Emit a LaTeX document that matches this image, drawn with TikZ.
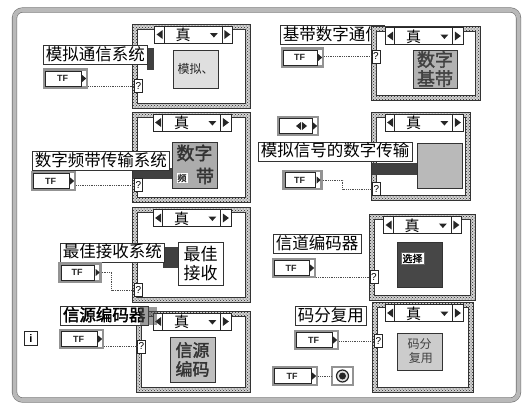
\documentclass[tikz,border=0pt]{standalone}
\usepackage{fontspec}
\newfontfamily\cjk{Noto Sans CJK SC}
\newfontfamily\cjkb[FakeBold=2]{Noto Sans CJK SC}
\newfontfamily\lsans{Liberation Sans}
\usetikzlibrary{patterns,calc}

\tikzset{
  loopframe/.style={draw=black!55, double=gray!55, double distance=4pt, line width=0.6pt, rounded corners=8pt, inner sep=0pt},
  casenode/.style={inner sep=0pt},
  lbl/.style={draw=black!80, line width=0.8pt, fill=white, inner xsep=2.5pt, inner ysep=1pt, text height=13.5pt, text depth=3.5pt, anchor=west, font=\cjk\fontsize{16.5}{17}\selectfont},
  selbox/.style={draw=black!85, line width=0.8pt, fill=white, minimum width=78pt, minimum height=17pt, inner sep=0pt},
  seltext/.style={font=\cjk\fontsize{15}{15}\selectfont, inner sep=0pt},
  inbox/.style={draw=black!80, line width=0.8pt, minimum width=45pt, minimum height=45pt, inner sep=0pt, align=center},
  tfbox/.style={draw=gray!85, line width=2.4pt, fill=white, minimum height=18pt, inner sep=0pt},
  tftext/.style={font=\lsans\bfseries\fontsize{9}{9}\selectfont, text=black!85, inner sep=0pt},
  qbox/.style={draw=black!85, line width=0.6pt, fill=white, minimum width=8pt, minimum height=13pt, inner sep=0pt, font=\lsans\fontsize{10}{10}\selectfont},
  wire/.style={densely dotted, black!70, line width=0.8pt},
  darkbar/.style={fill=black!75},
}

\newcommand\casestr[3]{%
  \node[casenode,#3] (#1) at (#2) {};
  \fill[white] (#1.north west) rectangle (#1.south east);
  \fill[gray!35, even odd rule]
    (#1.north west) rectangle (#1.south east)
    ([shift={(5,5)}]#1.north west) rectangle ([shift={(-5,-5)}]#1.south east);
  \fill[pattern=crosshatch dots, pattern color=black!85, even odd rule]
    (#1.north west) rectangle (#1.south east)
    ([shift={(5,5)}]#1.north west) rectangle ([shift={(-5,-5)}]#1.south east);
  \draw[black!80, line width=0.7pt] (#1.north west) rectangle (#1.south east);
  \draw[black!80, line width=0.7pt] ([shift={(5,5)}]#1.north west) rectangle ([shift={(-5,-5)}]#1.south east);
}

\newcommand\selector[2]{%
  \node[selbox] (#1) at (#2) {};
  \draw[black!85, line width=0.6pt] ([shift={(10,0)}]#1.north west) -- ([shift={(10,0)}]#1.south west);
  \draw[black!85, line width=0.6pt] ([shift={(-11,0)}]#1.north east) -- ([shift={(-11,0)}]#1.south east);
  \fill[black!85] ([shift={(2.5,0)}]#1.west) -- ++(6,-4.5) -- ++(0,9) -- cycle;
  \fill[black!85] ([shift={(-2.5,0)}]#1.east) -- ++(-6,-4.5) -- ++(0,9) -- cycle;
  \node[seltext] (#1t) at ([shift={(29,0.5)}]#1.west) {真};
  \fill[black!85] ([shift={(-23,-1.5)}]#1.east) -- ++(8,0) -- ++(-4,4.5) -- cycle;
}

\newcommand\tfterm[3]{%
  \node[tfbox, minimum width=#3] (#1) at (#2) {};
  \draw[black!85, line width=0.5pt] ([shift={(2.5,2.5)}]#1.north west) rectangle ([shift={(-7,-2.5)}]#1.south east);
  \node[tftext] (#1l) at ([shift={(-3,0)}]#1.center) {TF};
  \fill[black!85] ([shift={(-6,-3.5)}]#1.east) -- ++(4,3.5) -- ++(-4,3.5) -- cycle;
}

\begin{document}
\begin{tikzpicture}[x=1pt,y=-1pt]
\useasboundingbox (0,0) rectangle (529,407);
\fill[white] (0,0) rectangle (529,407);

% while loop
\node[loopframe, minimum width=504pt, minimum height=390pt] (loop) at (266.5,205) {};

% label hidden behind case 2
\node[lbl] (lab2) at (280,35) {基带数字通信};

% case structures
\casestr{c1}{191.5,66.5}{minimum width=117pt, minimum height=83pt}
\casestr{c2}{426,63.5}{minimum width=108pt, minimum height=73pt}
\casestr{c3}{191.5,157.5}{minimum width=117pt, minimum height=89pt}
\casestr{c4}{421,156.5}{minimum width=98pt, minimum height=87pt}
\casestr{c5}{191.5,255}{minimum width=117pt, minimum height=94pt}
\casestr{c6}{422.5,257.5}{minimum width=105pt, minimum height=85pt}
\casestr{c7}{193.5,352}{minimum width=113pt, minimum height=80pt}
\casestr{c8}{423,347.5}{minimum width=100pt, minimum height=89pt}

% selectors
\selector{s1}{193.5,34.5}
\selector{s2}{424,36}
\selector{s3}{192,122.5}
\selector{s4}{424,122.5}
\selector{s5}{192,218}
\selector{s6}{422.5,225}
\selector{s7}{192,321.5}
\selector{s8}{424,313}

% inner boxes
\node[inbox, minimum height=38pt, fill=gray!25, font=\cjk\fontsize{12}{12}\selectfont, text=black!85] (in1) at (195.5,69) {模拟、};
\node[inbox, minimum width=44pt, minimum height=38pt, fill=gray!60, font=\cjkb\fontsize{18}{19}\selectfont, text=black!75] (in2) at (435,69) {数字\\基带};
\node[inbox, minimum height=46pt, fill=gray!65] (in3) at (194.5,165) {};
\node[font=\cjkb\fontsize{18}{18}\selectfont, text=black!80, inner sep=0pt] (in3a) at (194.5,153) {数字};
\node[fill=white, font=\cjkb\fontsize{9}{9}\selectfont, inner sep=1pt, text=black!80] (in3b) at (182,178) {频};
\node[font=\cjkb\fontsize{18}{18}\selectfont, text=black!80, inner sep=0pt] (in3c) at (205,176) {带};
\node[inbox, fill=gray!55] (in4) at (439.5,165.5) {};
\node[inbox, minimum height=43pt, fill=white, font=\cjk\fontsize{17}{19}\selectfont] (in5) at (200.5,263.5) {最佳\\接收};
\node[inbox, fill=black!72] (in6) at (419.5,264.5) {};
\node[fill=white, draw=black!60, line width=0.4pt, inner sep=1.5pt, font=\cjkb\fontsize{10}{10}\selectfont] (in6l) at (412.5,258.5) {选择};
\node[inbox, fill=gray!50, font=\cjkb\fontsize{17}{19}\selectfont, text=black!80] (in7) at (192.5,359.5) {信源\\编码};
\node[inbox, minimum height=37pt, fill=gray!40, font=\cjk\fontsize{12}{14}\selectfont, text=black!75] (in8) at (419.5,351.5) {码分\\\ 复用};

% dark tunnels
\fill[darkbar] (147,48) rectangle (154,70);
\fill[darkbar] (133,168) rectangle (172,179);
\fill[darkbar] (372,163) rectangle (417,175);
\fill[darkbar] (163,247) rectangle (178,268);

% labels
\node[lbl] (lab1) at (43,55) {模拟通信系统};
\node[lbl] (lab3) at (32,161) {数字频带传输系统};
\node[lbl] (lab4) at (258,151.5) {模拟信号的数字传输};
\node[lbl] (lab5) at (60,252.5) {最佳接收系统};
\node[lbl] (lab6) at (273,244) {信道编码器};
\node[lbl, font=\cjkb\fontsize{16.5}{17}\selectfont] (lab7) at (60,316) {信源编码器};
\fill[black!70, opacity=0.55] (140,307) rectangle (157,325);
\node[lbl] (lab8) at (295,316) {码分复用};

% TF terminals
\tfterm{tf1}{65.5,78.5}{43pt}
\tfterm{tf2}{302.5,57.5}{41pt}
\tfterm{tf3}{53.5,181}{43pt}
\tfterm{tf4}{302.5,180}{38pt}
\tfterm{tf5}{80,272.5}{41pt}
\tfterm{tf6}{294,268}{42pt}
\tfterm{tf7}{81.5,339}{43pt}
\tfterm{tf8}{316.5,340}{43pt}
\tfterm{tfs}{295,376}{44pt}

% enum control
\node[tfbox, minimum width=40pt] (enum) at (298,126) {};
\draw[black!85, line width=0.5pt] ([shift={(2.5,2.5)}]enum.north west) rectangle ([shift={(-7,-2.5)}]enum.south east);
\fill[black!85] ([shift={(-2,0)}]enum.center) -- ++(5,-4) -- ++(0,8) -- cycle;
\fill[black!85] ([shift={(9,0)}]enum.center) -- ++(-5,-4) -- ++(0,8) -- cycle;
\fill[black!85] ([shift={(-6,-3.5)}]enum.east) -- ++(4,3.5) -- ++(-4,3.5) -- cycle;

% selector terminals
\node[qbox] (q1) at (138.5,86) {?};
\node[qbox] (q2) at (376,56.5) {?};
\node[qbox] (q3) at (138.5,185) {?};
\node[qbox] (q4) at (376.5,189) {?};
\node[qbox] (q5) at (138.5,290) {?};
\node[qbox] (q6) at (374,277) {?};
\node[qbox] (q7) at (141.5,346.5) {?};
\node[qbox] (q8) at (378.5,341) {?};

% iteration terminal
\node[draw=black!85, line width=1.2pt, fill=white, minimum width=13pt, minimum height=14pt, inner sep=0pt, font=\lsans\bfseries\fontsize{11}{11}\selectfont] (iter) at (31,338.5) {i};

% stop button
\node[draw=gray!85, line width=2pt, fill=white, minimum width=21pt, minimum height=18pt, inner sep=0pt] (stop) at (342.5,376) {};
\draw[black!85, line width=1.2pt, fill=gray!25] (stop.center) circle[radius=6pt];
\fill[black!85] (stop.center) circle[radius=3.5pt];

% wires
\draw[wire] (tf1.east |- q1.west) -- (q1.west);
\draw[wire] (tf2.east |- q2.west) -- (q2.west);
\draw[wire] (tf3.east |- q3.west) -- (q3.west);
\draw[wire] (tf4.east) -- ++(20,0) |- (q4.west);
\draw[wire] (tf5.east) -- ++(10,0) |- (q5.west);
\draw[wire] (tf6.east |- q6.west) -- (q6.west);
\draw[wire] (tf7.east |- q7.west) -- (q7.west);
\draw[wire] (tf8.east |- q8.west) -- (q8.west);
\draw[wire] (tfs.east) -- (stop.west);
\end{tikzpicture}
\end{document}
